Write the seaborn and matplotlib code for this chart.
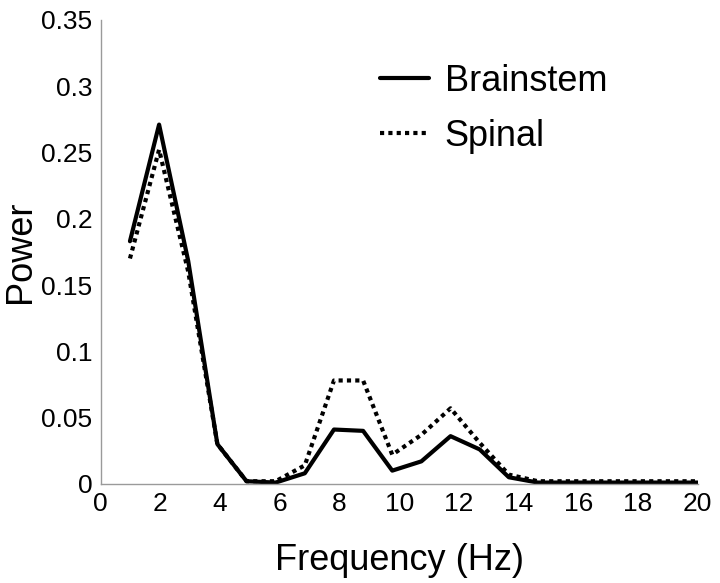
import numpy as np
import pandas as pd
import matplotlib.pyplot as plt
import seaborn as sns

# Frequency bins (Hz)
freq = [0.977, 1.953, 2.930, 3.906, 4.883, 5.859, 6.836, 7.813, 8.789, 9.766,
        10.742, 11.719, 12.695, 13.672, 14.648, 15.625, 16.602, 17.578, 18.555,
        19.531, 20.508]
brainstem = [0.183, 0.271, 0.168, 0.030, 0.002, 0.001, 0.008, 0.041, 0.040, 0.010,
             0.017, 0.036, 0.026, 0.005, 0.001, 0.001, 0.001, 0.001, 0.001,
             0.001, 0.001]
spinal = [0.170, 0.252, 0.160, 0.030, 0.002, 0.002, 0.014, 0.078, 0.078, 0.022,
          0.037, 0.057, 0.031, 0.007, 0.002, 0.002, 0.002, 0.002, 0.002,
          0.002, 0.002]

df = pd.DataFrame({"Frequency": freq, "Brainstem": brainstem, "Spinal": spinal})

sns.set_style("white")
plt.rcParams["font.family"] = ["Liberation Sans", "DejaVu Sans"]
plt.rcParams["text.color"] = "black"
plt.rcParams["axes.labelcolor"] = "black"

fig = plt.figure(figsize=(7.2, 5.83), dpi=100)
ax = fig.add_axes([0.140, 0.170, 0.829, 0.796])

sns.lineplot(data=df, x="Frequency", y="Brainstem", ax=ax, color="black",
             linewidth=3, label="Brainstem")
sns.lineplot(data=df, x="Frequency", y="Spinal", ax=ax, color="black",
             linewidth=3, linestyle=(0, (1, 1)), label="Spinal")
for line in ax.lines:
    line.set_dash_capstyle("butt")

ax.set_xlim(0, 20)
ax.set_ylim(0, 0.35)
ax.set_xticks(range(0, 21, 2))
ax.set_yticks([0, 0.05, 0.1, 0.15, 0.2, 0.25, 0.3, 0.35])
ax.set_yticklabels(["0", "0.05", "0.1", "0.15", "0.2", "0.25", "0.3", "0.35"])

for side in ["top", "right"]:
    ax.spines[side].set_visible(False)
for side in ["left", "bottom"]:
    ax.spines[side].set_color("#9a9a9a")
    ax.spines[side].set_linewidth(1)
ax.tick_params(direction="in", length=5, width=0.8, color="#9a9a9a",
               labelcolor="black", labelsize=19, pad=6)

ax.set_xlabel("Frequency (Hz)", fontsize=26, labelpad=19)
ax.set_ylabel("Power", fontsize=26, labelpad=2)

leg = ax.legend(loc="upper left", bbox_to_anchor=(0.413, 0.975), frameon=False,
                fontsize=26, handlelength=1.35, labelspacing=0.55, handletextpad=0.45)

fig.savefig("out.png", dpi=100)
